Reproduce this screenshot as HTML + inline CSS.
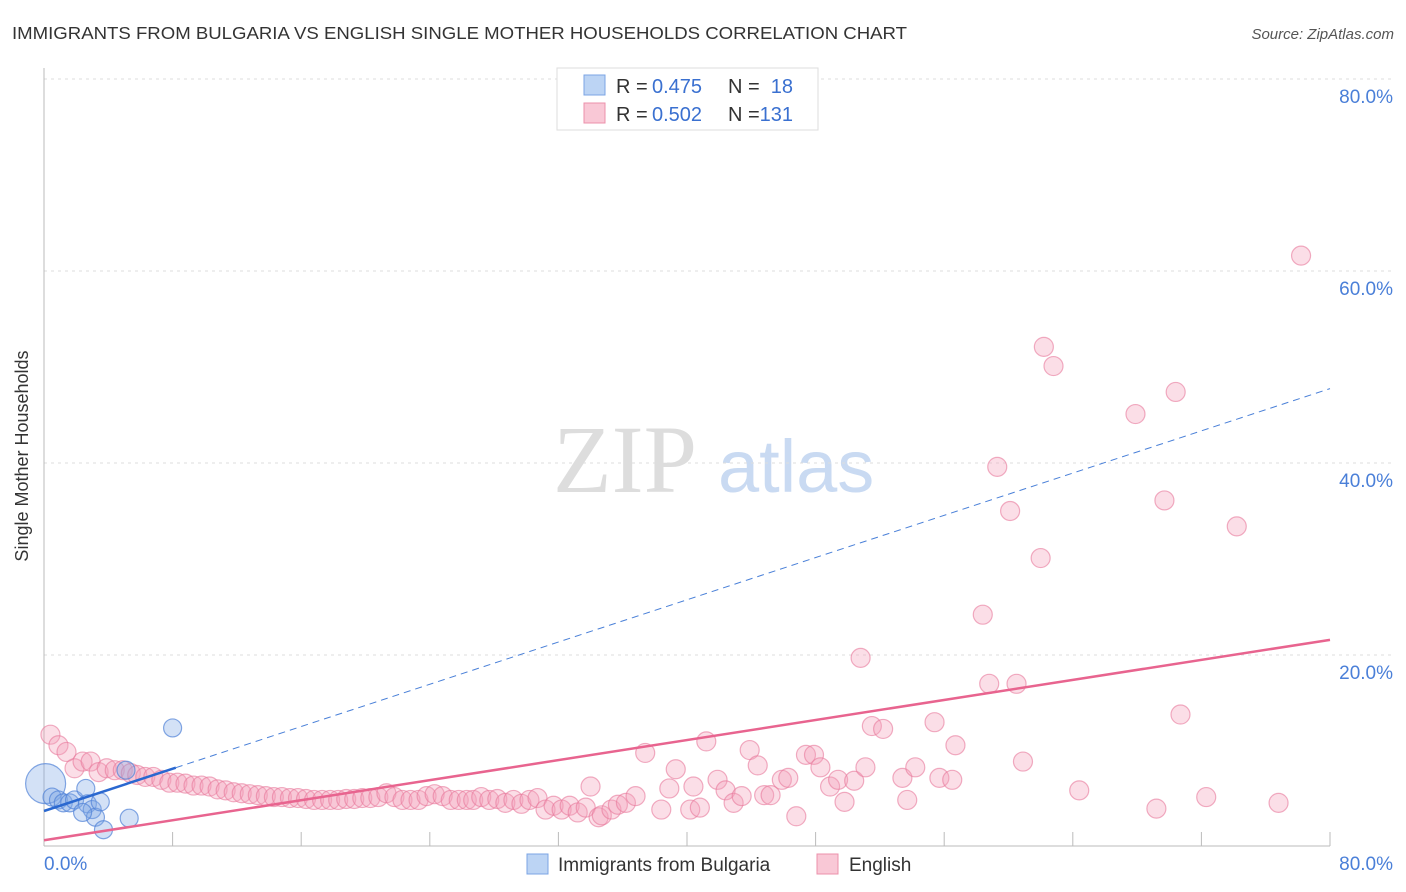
<!DOCTYPE html>
<html><head><meta charset="utf-8"><style>
body{margin:0;background:#fff;font-family:"Liberation Sans",sans-serif;}
svg{display:block}
</style></head><body>
<svg width="1406" height="892" xmlns="http://www.w3.org/2000/svg">
<text x="12" y="39" font-size="17.5" fill="#333" textLength="895" lengthAdjust="spacingAndGlyphs">IMMIGRANTS FROM BULGARIA VS ENGLISH SINGLE MOTHER HOUSEHOLDS CORRELATION CHART</text>
<text x="1394" y="39" font-size="15" fill="#555" font-style="italic" text-anchor="end">Source: ZipAtlas.com</text>
<g>
<text x="553" y="492" font-family="Liberation Serif,serif" font-size="96" fill="#ddd">ZIP</text>
<text x="718" y="492" font-size="74" fill="#c9daf2">atlas</text>
</g>
<g id="grid"></g>
<g id="axes"></g>
<g id="marks"></g>
<text x="28" y="456" font-size="18" fill="#333" transform="rotate(-90 28 456)" text-anchor="middle">Single Mother Households</text>
<g>
<rect x="557" y="68" width="261" height="62" fill="#fff" stroke="#ddd"/>
<rect x="584" y="75" width="21" height="20" fill="#bcd4f4" stroke="#7ba4e4"/>
<rect x="584" y="103" width="21" height="20" fill="#f9c8d6" stroke="#ec90ab"/>
<text x="616" y="93" font-size="20" fill="#333">R =</text>
<text x="652" y="93" font-size="20" fill="#3a70d0">0.475</text>
<text x="728" y="93" font-size="20" fill="#333">N =</text>
<text x="793" y="93" font-size="20" fill="#3a70d0" text-anchor="end">18</text>
<text x="616" y="121" font-size="20" fill="#333">R =</text>
<text x="652" y="121" font-size="20" fill="#3a70d0">0.502</text>
<text x="728" y="121" font-size="20" fill="#333">N =</text>
<text x="793" y="121" font-size="20" fill="#3a70d0" text-anchor="end">131</text>
</g>
<g>
<rect x="527" y="854" width="21" height="20" fill="#bcd4f4" stroke="#7ba4e4"/>
<text x="558" y="871" font-size="19" fill="#333">Immigrants from Bulgaria</text>
<rect x="817" y="854" width="21" height="20" fill="#f9c8d6" stroke="#ec90ab"/>
<text x="849" y="871" font-size="19" fill="#333">English</text>
</g>
</svg>
<script>
const yTicks=[20,40,60,80];
const xTickLabels=["0.0%","80.0%"];
const blueX=[0.1,0.5,0.9,1.2,1.6,1.9,2.6,2.7,3.0,3.2,3.5,3.7,5.1,5.3,8.0,2.4];
const blueY=[6.6,5.2,4.9,4.6,4.6,4.9,6.1,4.5,3.9,3.1,4.7,1.8,8.0,3.0,12.4,3.6];
const blueBig=[1,0,0,0,0,0,0,0,0,0,0,0,0,0,0,0];
const pinkX=[0.4,0.9,1.4,1.9,2.4,2.9,3.4,3.9,4.4,4.9,5.4,5.8,6.3,6.8,7.3,7.8,8.3,8.8,9.3,9.8,10.3,10.8,11.3,11.8,12.3,12.8,13.3,13.8,14.3,14.8,15.3,15.8,16.3,16.8,17.3,17.8,18.3,18.8,19.3,19.8,20.3,20.8,21.3,21.8,22.3,22.8,23.3,23.8,24.3,24.8,25.3,25.8,26.3,26.7,27.2,27.7,28.2,28.7,29.2,29.7,30.2,30.7,31.2,31.7,32.2,32.7,33.2,33.7,34.0,34.5,34.7,35.3,35.7,36.2,36.8,37.4,38.4,38.9,39.3,40.2,40.4,40.8,41.2,41.9,42.4,42.9,43.4,43.9,44.4,44.8,45.2,45.9,46.3,46.8,47.4,47.9,48.3,48.9,49.4,49.8,50.4,51.1,50.8,51.5,52.2,53.4,53.7,54.2,55.4,55.7,56.5,56.7,58.4,58.8,59.3,60.1,60.5,60.9,62.0,62.2,62.8,64.4,67.9,69.2,69.7,70.4,70.7,72.3,74.2,76.8,78.2];
const pinkY=[11.7,10.6,9.9,8.2,8.9,8.9,7.8,8.2,8.0,8.0,7.7,7.5,7.3,7.3,7.0,6.7,6.7,6.6,6.4,6.4,6.3,6.0,5.9,5.7,5.6,5.5,5.4,5.3,5.2,5.2,5.1,5.1,5.0,4.9,4.9,4.9,4.9,5.0,5.0,5.1,5.1,5.2,5.6,5.2,4.9,4.9,4.9,5.3,5.5,5.3,4.9,4.9,4.9,4.9,5.2,4.9,5.0,4.6,4.9,4.5,4.9,5.1,3.9,4.3,3.9,4.3,3.6,4.1,6.3,3.1,3.3,3.9,4.4,4.6,5.3,9.8,3.9,6.1,8.1,3.9,6.3,4.1,11.0,7.0,5.9,4.6,5.3,10.1,8.5,5.4,5.4,7.0,7.2,3.2,9.6,9.6,8.3,6.3,7.0,4.7,6.9,8.3,19.7,12.6,12.3,7.2,4.9,8.3,13.0,7.2,7.0,10.6,24.2,17.0,39.6,35.0,17.0,8.9,30.1,52.1,50.1,5.9,45.1,4.0,36.1,47.4,13.8,5.2,33.4,4.6,61.6];
const blueTrend=[3.75,0.55];
const pinkTrend=[0.7,0.261];
const NS="http://www.w3.org/2000/svg";
const X=v=>44+v/80*1286;
const Y=v=>847-v/20*192;
function mk(t,a,p){const e=document.createElementNS(NS,t);for(const k in a)e.setAttribute(k,a[k]);p.appendChild(e);return e;}
const grid=document.getElementById('grid'),axes=document.getElementById('axes'),marks=document.getElementById('marks');
yTicks.forEach(t=>{
 const l=mk('line',{x1:44,x2:1394,y1:Y(t),y2:Y(t),stroke:'#ddd','stroke-dasharray':'3,4'},grid);
 
 
 const tx=mk('text',{x:1393,y:Y(t)+24,'font-size':19,fill:'#4a7fd8','text-anchor':'end'},axes);
 tx.textContent=t.toFixed(1)+'%';
 
 
});
let a=mk('line',{x1:44,x2:44,y1:68,y2:846,stroke:'#bbb'},axes);


a=mk('line',{x1:44,x2:1330,y1:846,y2:846,stroke:'#bbb'},axes);


for(let i=1;i<=10;i++){const t=mk('line',{x1:X(i*8),x2:X(i*8),y1:832,y2:846,stroke:'#bbb'},axes);
 
 }
xTickLabels.forEach((s,i)=>{const t=mk('text',{x:i?1393:44,y:870,'font-size':19,fill:'#4a7fd8','text-anchor':i?'end':'start'},axes);t.textContent=s;
 
 });
pinkX.forEach((x,i)=>{const c=mk('circle',{cx:X(x),cy:Y(pinkY[i]),r:9.5,fill:'rgba(244,160,186,0.35)',stroke:'rgba(232,120,155,0.6)','stroke-width':1.2},marks);
 
 });
blueX.forEach((x,i)=>{const c=mk('circle',{cx:X(x),cy:Y(blueY[i]),r:blueBig[i]?20:9,fill:'rgba(130,170,230,0.35)',stroke:'rgba(80,130,215,0.7)','stroke-width':1.2},marks);
 
 });
let l=mk('line',{x1:X(0),y1:Y(pinkTrend[0]),x2:X(80),y2:Y(pinkTrend[0]+pinkTrend[1]*80),stroke:'#e8648f','stroke-width':2.5},marks);


l=mk('line',{x1:X(8.2),y1:Y(blueTrend[0]+blueTrend[1]*8.2),x2:X(80),y2:Y(blueTrend[0]+blueTrend[1]*80),stroke:'#4a80d8','stroke-width':1,'stroke-dasharray':'7,5'},marks);


l=mk('line',{x1:X(0),y1:Y(blueTrend[0]),x2:X(8.2),y2:Y(blueTrend[0]+blueTrend[1]*8.2),stroke:'#2a68d0','stroke-width':2.5},marks);


</script>
</body></html>
